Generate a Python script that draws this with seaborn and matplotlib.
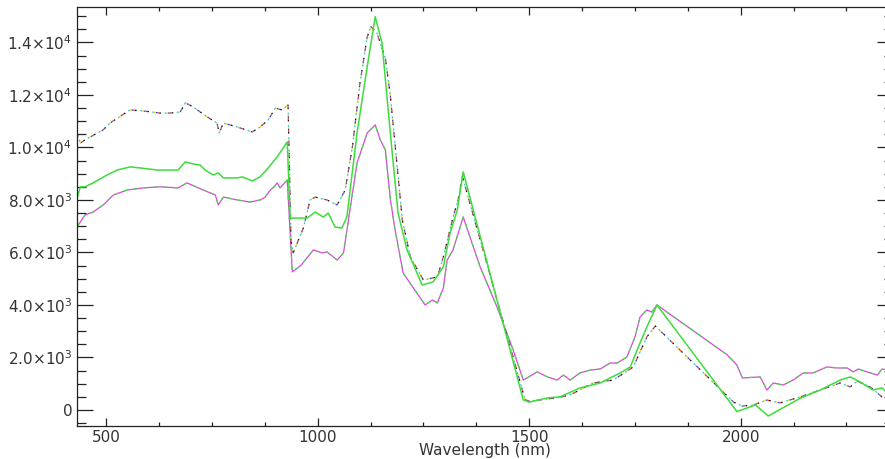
import matplotlib
matplotlib.use("Agg")
import matplotlib.pyplot as plt
import seaborn as sns
from matplotlib.ticker import FixedLocator, FixedFormatter, MultipleLocator

# upper spectrum (drawn as multicoloured dotted lines)
wl_upper = [432, 439, 450, 479, 493, 509, 538, 557, 587, 628, 651, 675, 687, 706,
            739, 762, 767, 777, 810, 845, 864, 883, 900, 916, 930, 937, 942, 966,
            982, 994, 1022, 1046, 1065, 1082, 1100, 1117, 1126, 1140, 1160, 1172,
            1188, 1200, 1219, 1250, 1283, 1297, 1320, 1332, 1342, 1490, 1500, 1543,
            1573, 1600, 1651, 1699, 1746, 1778, 1798, 1983, 2004, 2030, 2062, 2093,
            2141, 2188, 2235, 2259, 2275, 2306, 2334, 2360]
val_upper = [10480, 10170, 10290, 10550, 10670, 10930, 11240, 11430, 11390, 11310,
             11310, 11350, 11700, 11540, 11160, 10930, 10550, 10930, 10780, 10590,
             10780, 11050, 11500, 11430, 11620, 6400, 5980, 6930, 8000, 8110, 8000,
             7810, 8380, 10020, 12460, 14210, 14600, 14360, 13400, 11930, 9260, 7240,
             5830, 4950, 5070, 5830, 7350, 8000, 8900, 400, 330, 420, 480, 600, 1030,
             1140, 1640, 2780, 3200, 300, 150, 190, 380, 270, 500, 760, 1030, 880,
             1100, 880, 500, 450]

# middle spectrum (green)
wl_mid = [432, 439, 450, 469, 502, 526, 557, 580, 621, 670, 687, 706, 722, 734, 753,
          765, 777, 810, 822, 845, 864, 883, 904, 928, 935, 975, 994, 1013, 1025,
          1041, 1057, 1069, 1093, 1117, 1136, 1152, 1172, 1190, 1211, 1247, 1273,
          1297, 1313, 1330, 1344, 1486, 1500, 1543, 1573, 1620, 1668, 1715, 1739,
          1758, 1778, 1802, 1991, 2035, 2065, 2141, 2188, 2235, 2259, 2282, 2313,
          2334, 2360]
val_mid = [8110, 8500, 8500, 8650, 8950, 9140, 9260, 9220, 9140, 9140, 9450, 9370,
           9330, 9140, 8950, 9030, 8840, 8840, 8880, 8720, 8880, 9220, 9640, 10210,
           7310, 7310, 7540, 7350, 7500, 6970, 6930, 7350, 10550, 13070, 14980, 13980,
           10500, 7500, 6100, 4760, 4880, 5450, 6740, 7620, 9070, 380, 300, 460, 500,
           840, 1030, 1410, 1640, 2400, 3160, 4000, -60, 190, -230, 450, 760, 1140,
           1260, 1070, 760, 840, 430]

# lower spectrum (magenta)
wl_low = [432, 450, 469, 493, 517, 550, 587, 628, 670, 691, 729, 758, 765, 777, 810,
          840, 864, 876, 888, 897, 904, 911, 928, 940, 960, 990, 1010, 1022, 1046,
          1061, 1093, 1117, 1136, 1148, 1160, 1172, 1183, 1202, 1226, 1254, 1271,
          1283, 1297, 1306, 1320, 1344, 1384, 1424, 1462, 1486, 1519, 1543, 1566,
          1581, 1597, 1620, 1644, 1668, 1691, 1708, 1731, 1750, 1762, 1778, 1790,
          1802, 1968, 1991, 2004, 2046, 2062, 2077, 2100, 2124, 2148, 2171, 2204,
          2228, 2252, 2266, 2278, 2299, 2323, 2334, 2360]
val_low = [7000, 7430, 7540, 7810, 8190, 8380, 8460, 8500, 8460, 8650, 8380, 8190,
           7810, 8110, 8000, 7920, 8000, 8110, 8380, 8500, 8650, 8460, 8760, 5260,
           5500, 6100, 5980, 6020, 5710, 5980, 9410, 10550, 10860, 10290, 9900, 8000,
           6860, 5220, 4650, 4000, 4190, 4080, 4650, 5710, 6100, 7350, 5450, 3920,
           2290, 1140, 1450, 1260, 1140, 1330, 1140, 1410, 1520, 1560, 1790, 1790,
           2020, 2780, 3540, 3810, 3730, 4000, 2100, 1710, 1220, 1260, 760, 1030, 950,
           1140, 1410, 1410, 1640, 1600, 1600, 1450, 1560, 1450, 1330, 1560, 1500]

x_ticks = [500, 1000, 1500, 2000]
y_ticks = [0, 2000, 4000, 6000, 8000, 10000, 12000, 14000]
y_tick_labels = ["0", r"2.0$\times$10$^{3}$", r"4.0$\times$10$^{3}$",
                 r"6.0$\times$10$^{3}$", r"8.0$\times$10$^{3}$",
                 r"1.0$\times$10$^{4}$", r"1.2$\times$10$^{4}$",
                 r"1.4$\times$10$^{4}$"]

sns.set_style("ticks")
plt.rcParams["font.family"] = ["DejaVu Sans"]
plt.rcParams["mathtext.fontset"] = "dejavusans"

fig = plt.figure(figsize=(8.85, 4.59), dpi=100)
ax = fig.add_axes([77 / 885, 1 - 426 / 459, (893 - 77) / 885, (426 - 7) / 459])

# lower: magenta with green dashes over it
sns.lineplot(x=wl_low, y=val_low, ax=ax, color="#dd44dd", lw=0.9, sort=False)
sns.lineplot(x=wl_low, y=val_low, ax=ax, color="#44dd44", lw=0.9, sort=False,
             linestyle=(0, (3, 5)))

# upper: several overlapping dotted traces
dot_colors = ["#111111", "#e03a2a", "#2d3fd0", "#f0d820", "#25c8e0"]
for i, c in enumerate(dot_colors):
    sns.lineplot(x=wl_upper, y=val_upper, ax=ax, color=c, lw=0.9, sort=False,
                 linestyle=(i * 1.4, (1.4, 8.4)))

# middle: green solid
sns.lineplot(x=wl_mid, y=val_mid, ax=ax, color="#3ddc3d", lw=1.1, sort=False)

ax.set_xlim(431, 2360)
ax.set_ylim(-610, 15350)

ax.xaxis.set_major_locator(FixedLocator(x_ticks))
ax.xaxis.set_minor_locator(MultipleLocator(125))
ax.yaxis.set_major_locator(FixedLocator(y_ticks))
ax.yaxis.set_major_formatter(FixedFormatter(y_tick_labels))
ax.yaxis.set_minor_locator(MultipleLocator(500))

ax.tick_params(axis="both", which="both", direction="in",
               bottom=True, top=True, left=True, right=True,
               color="#222222", labelcolor="#333333", labelsize=11, width=0.9)
ax.tick_params(axis="y", which="major", length=11.5, pad=3.5)
ax.tick_params(axis="y", which="minor", length=6.5)
ax.tick_params(axis="x", which="major", length=6, pad=3)
ax.tick_params(axis="x", which="minor", length=3.2)

for side in ["left", "right", "top", "bottom"]:
    ax.spines[side].set_visible(True)
    ax.spines[side].set_color("#222222")
    ax.spines[side].set_linewidth(0.9)

ax.set_xlabel("Wavelength (nm)", fontsize=11, color="#333333", labelpad=-1.5)
ax.set_ylabel("")

fig.savefig("out.png", dpi=100)
